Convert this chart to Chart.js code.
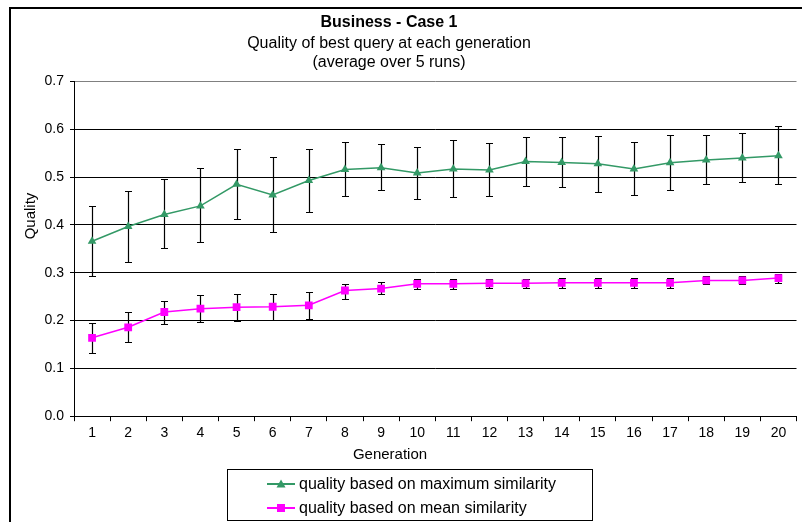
<!DOCTYPE html>
<html>
<head>
<meta charset="utf-8">
<script src="https://cdn.jsdelivr.net/npm/chart.js@4/dist/chart.umd.min.js"></script>
<style>
  html, body { margin: 0; padding: 0; background: #fff; }
  body { width: 802px; height: 522px; overflow: hidden; position: relative; font-family: "Liberation Sans", Arial, sans-serif; color: #000; }
  #chart { position: absolute; left: -20px; top: 0; }
  .frame { position: absolute; left: 9px; top: 7px; width: 900px; height: 600px; border: 2px solid #000; pointer-events: none; }
  .axis-title { position: absolute; font-size: 15px; white-space: nowrap; transform: translate(-50%, -50%); }
  #yTitle { left: 29px; top: 216px; transform: translate(-50%, -50%) rotate(-90deg); }
  #xTitle { left: 390px; top: 453px; }
  .legend { position: absolute; left: 227px; top: 469px; width: 366px; height: 52px; border: 1px solid #000; box-sizing: border-box; background: #fff; font-size: 16px; }
  .legend .row { position: absolute; left: 39px; height: 20px; display: flex; align-items: center; white-space: nowrap; }
  .legend svg { margin-right: 4px; }
</style>
</head>
<body>
<canvas id="chart" width="822" height="522"></canvas>
<div class="frame"></div>
<div class="axis-title" id="yTitle">Quality</div>
<div class="axis-title" id="xTitle">Generation</div>
<div class="legend">
  <div class="row" style="top:4px">
    <svg width="28" height="12"><line x1="0" y1="6" x2="28" y2="6" stroke="#339966" stroke-width="2"/><polygon points="14,1.5 18.5,9.5 9.5,9.5" fill="#339966"/></svg>
    <span>quality based on maximum similarity</span>
  </div>
  <div class="row" style="top:28px">
    <svg width="28" height="12"><line x1="0" y1="6" x2="28" y2="6" stroke="#ff00ff" stroke-width="2"/><rect x="10" y="2" width="8" height="8" fill="#ff00ff"/></svg>
    <span>quality based on mean similarity</span>
  </div>
</div>
<script>
// Generacje (oś X)
const generations = ['1', '2', '3', '4', '5', '6', '7', '8', '9', '10', '11', '12', '13', '14', '15', '16', '17', '18', '19', '20'];

// Jakość wg maksymalnego podobieństwa + granice słupków błędu
const maxSim = [0.366, 0.397, 0.422, 0.440, 0.485, 0.463, 0.493, 0.516, 0.520, 0.509, 0.517, 0.515, 0.533, 0.531, 0.528, 0.517, 0.530, 0.536, 0.540, 0.545];
const maxSimHigh = [0.440, 0.472, 0.497, 0.519, 0.559, 0.543, 0.560, 0.574, 0.570, 0.564, 0.577, 0.572, 0.585, 0.584, 0.586, 0.574, 0.589, 0.589, 0.592, 0.608];
const maxSimLow = [0.293, 0.323, 0.352, 0.364, 0.412, 0.385, 0.427, 0.460, 0.473, 0.454, 0.458, 0.461, 0.482, 0.480, 0.470, 0.463, 0.473, 0.485, 0.491, 0.485];

// Jakość wg średniego podobieństwa + granice słupków błędu
const meanSim = [0.164, 0.186, 0.218, 0.225, 0.228, 0.229, 0.232, 0.263, 0.267, 0.277, 0.277, 0.278, 0.278, 0.279, 0.279, 0.279, 0.279, 0.284, 0.284, 0.289];
const meanSimHigh = [0.195, 0.217, 0.242, 0.253, 0.256, 0.256, 0.259, 0.277, 0.281, 0.287, 0.287, 0.288, 0.288, 0.289, 0.289, 0.289, 0.289, 0.293, 0.293, 0.297];
const meanSimLow = [0.133, 0.155, 0.193, 0.197, 0.200, 0.202, 0.204, 0.246, 0.255, 0.267, 0.267, 0.268, 0.268, 0.269, 0.269, 0.269, 0.269, 0.276, 0.276, 0.279];

// Etykiety osi Y
const yTicks = [0, 0.1, 0.2, 0.3, 0.4, 0.5, 0.6, 0.7];

const errorRanges = [
    { high: maxSimHigh, low: maxSimLow },
    { high: meanSimHigh, low: meanSimLow }
];

Chart.defaults.font.family = '"Liberation Sans", Arial, sans-serif';
Chart.defaults.color = '#000';

// Słupki błędu rysowane przez skale wykresu
const errorBarsPlugin = {
    id: 'errorBars',
    beforeDatasetsDraw(chart) {
        const ctx = chart.ctx;
        const y = chart.scales.y;
        ctx.save();
        ctx.strokeStyle = '#000';
        ctx.lineWidth = 1.2;
        errorRanges.forEach((range, i) => {
            const meta = chart.getDatasetMeta(i);
            meta.data.forEach((pt, j) => {
                const px = Math.round(pt.x) + 0.5;
                const top = Math.round(y.getPixelForValue(range.high[j])) + 0.5;
                const bot = Math.round(y.getPixelForValue(range.low[j])) + 0.5;
                ctx.beginPath();
                ctx.moveTo(px, top);
                ctx.lineTo(px, bot);
                ctx.moveTo(px - 3.5, top);
                ctx.lineTo(px + 3.5, top);
                ctx.moveTo(px - 3.5, bot);
                ctx.lineTo(px + 3.5, bot);
                ctx.stroke();
            });
        });
        ctx.restore();
    }
};

const ctx = document.getElementById('chart').getContext('2d');

const qualityChart = new Chart(ctx, {
    type: 'line',
    data: {
        labels: generations,
        datasets: [{
            label: 'quality based on maximum similarity',
            data: maxSim,
            borderColor: '#339966',
            backgroundColor: '#339966',
            borderWidth: 1.5,
            pointStyle: 'triangle',
            pointRadius: 5,
            pointBorderWidth: 0,
            tension: 0,
            fill: false
        }, {
            label: 'quality based on mean similarity',
            data: meanSim,
            borderColor: '#ff00ff',
            backgroundColor: '#ff00ff',
            borderWidth: 1.5,
            pointStyle: 'rect',
            pointRadius: 5.5,
            pointBorderWidth: 0,
            tension: 0,
            fill: false
        }]
    },
    options: {
        responsive: false,
        animation: false,
        layout: { padding: { left: 0, right: 4, top: 0, bottom: 76 } },
        plugins: {
            legend: { display: false },
            tooltip: { enabled: false },
            title: {
                display: true,
                text: 'Business - Case 1',
                font: { size: 16, weight: 'bold', lineHeight: 1.2 },
                padding: { top: 13, bottom: 0 }
            },
            subtitle: {
                display: true,
                text: ['Quality of best query at each generation', '(average over 5 runs)'],
                font: { size: 16, lineHeight: 1.2 },
                color: '#000',
                padding: { top: 2, bottom: 9 }
            }
        },
        scales: {
            x: {
                offset: true,
                grid: {
                    offset: true,
                    drawOnChartArea: true,
                    color: (c) => c.index === generations.length ? '#808080' : 'rgba(0,0,0,0)',
                    tickColor: '#000',
                    tickLength: 5
                },
                border: { color: '#000', width: 1 },
                ticks: { font: { size: 14 }, padding: 4, maxRotation: 0, autoSkip: false }
            },
            y: {
                min: 0,
                max: 0.7,
                afterFit: (scale) => { scale.width = 94; },
                afterBuildTicks: (scale) => { scale.ticks = yTicks.map(v => ({ value: v })); },
                grid: {
                    color: (c) => c.index === yTicks.length - 1 ? '#808080' : '#000',
                    tickColor: '#000',
                    tickLength: 4
                },
                border: { color: '#000', width: 1 },
                ticks: {
                    font: { size: 14 },
                    padding: 6,
                    callback: (v) => Number(v).toFixed(1)
                }
            }
        }
    },
    plugins: [errorBarsPlugin]
});
</script>
</body>
</html>
